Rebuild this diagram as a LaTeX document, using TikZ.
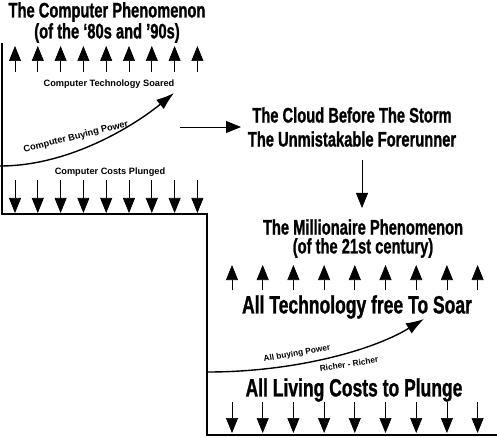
\documentclass[tikz,border=0pt]{standalone}
\usepackage{fontspec}
\setmainfont{Liberation Sans}
\newfontfamily\condfont[FakeStretch=0.7, BoldFeatures={FakeBold=1}]{Liberation Sans}
\usetikzlibrary{arrows.meta}
\tikzset{
  frameline/.style={line width=1.4pt, draw=black, line join=miter},
  tickarrow/.style={line width=0.7pt, -{Triangle[length=15pt,width=12pt]}},
  flowarrow/.style={line width=0.8pt, -{Triangle[length=15pt,width=12pt]}},
  powercurve/.style={line width=1.4pt, -{Latex[length=18pt,width=12pt]}},
  headtitle/.style={font=\condfont\bfseries\fontsize{21}{23}\selectfont, inner sep=0pt},
  bigtitle/.style={font=\condfont\bfseries\fontsize{25}{27}\selectfont, inner sep=0pt},
  smalllabel/.style={font=\bfseries\fontsize{9.2}{11}\selectfont, inner sep=0pt},
  tinylabel/.style={font=\bfseries\fontsize{8.3}{10}\selectfont, inner sep=0pt},
}

\begin{document}
\begin{tikzpicture}[x=1pt, y=-1pt]
\useasboundingbox (0,0) rectangle (497,438);
% stepped frame
\draw[frameline] (2,43) -- (2,214) -- (207,214) -- (207,435) -- (497,435);
% first phenomenon
\node[headtitle] (comptitle) at (107,12) {The Computer Phenomenon};
\node[headtitle] (compyears) at (107,33) {(of the ‘80s and ’90s)};
\foreach \i in {0,...,8}
  \draw[tickarrow] ({15+22.8*\i},72) -- ({15+22.8*\i},46);
\node[smalllabel] (compsoar) at (109,84) {Computer Technology Soared};
\coordinate (compstart) at (0,166);
\coordinate (comptip) at (174,93);
\draw[powercurve] (compstart) .. controls (70,166) and (135,125) .. (comptip);
\node[smalllabel, rotate=14] (compbuy) at (76,137) {Computer Buying Power};
\node[smalllabel] (compcost) at (110,172) {Computer Costs Plunged};
\foreach \i in {0,...,8}
  \draw[tickarrow] ({15+22.8*\i},180) -- ({15+22.8*\i},213);
% forerunner
\coordinate (rstart) at (180,127);
\coordinate (rend) at (241,127);
\draw[flowarrow] (rstart) -- (rend);
\node[headtitle] (cloud) at (352,115) {The Cloud Before The Storm};
\node[headtitle] (forerun) at (352,139) {The Unmistakable Forerunner};
\coordinate (dstart) at (362,160);
\coordinate (dend) at (362,208);
\draw[flowarrow] (dstart) -- (dend);
% second phenomenon
\node[headtitle] (milltitle) at (363,227) {The Millionaire Phenomenon};
\node[headtitle] (millyears) at (363,248) {(of the 21st century)};
\foreach \i in {0,...,8}
  \draw[tickarrow] ({232+30.7*\i},290) -- ({232+30.7*\i},265);
\node[bigtitle] (allsoar) at (357,307) {All Technology free To Soar};
\coordinate (allstart) at (208,372);
\coordinate (alltip) at (424,319);
\draw[powercurve] (allstart) .. controls (290,372) and (370,352) .. (alltip);
\node[tinylabel, rotate=10] (allbuy) at (297,354) {All buying Power};
\node[tinylabel, rotate=9] (richer) at (349,364) {Richer - Richer};
\node[bigtitle] (allcost) at (354,390) {All Living Costs to Plunge};
\foreach \i in {0,...,8}
  \draw[tickarrow] ({232+30.7*\i},402) -- ({232+30.7*\i},433);
\end{tikzpicture}
\end{document}
